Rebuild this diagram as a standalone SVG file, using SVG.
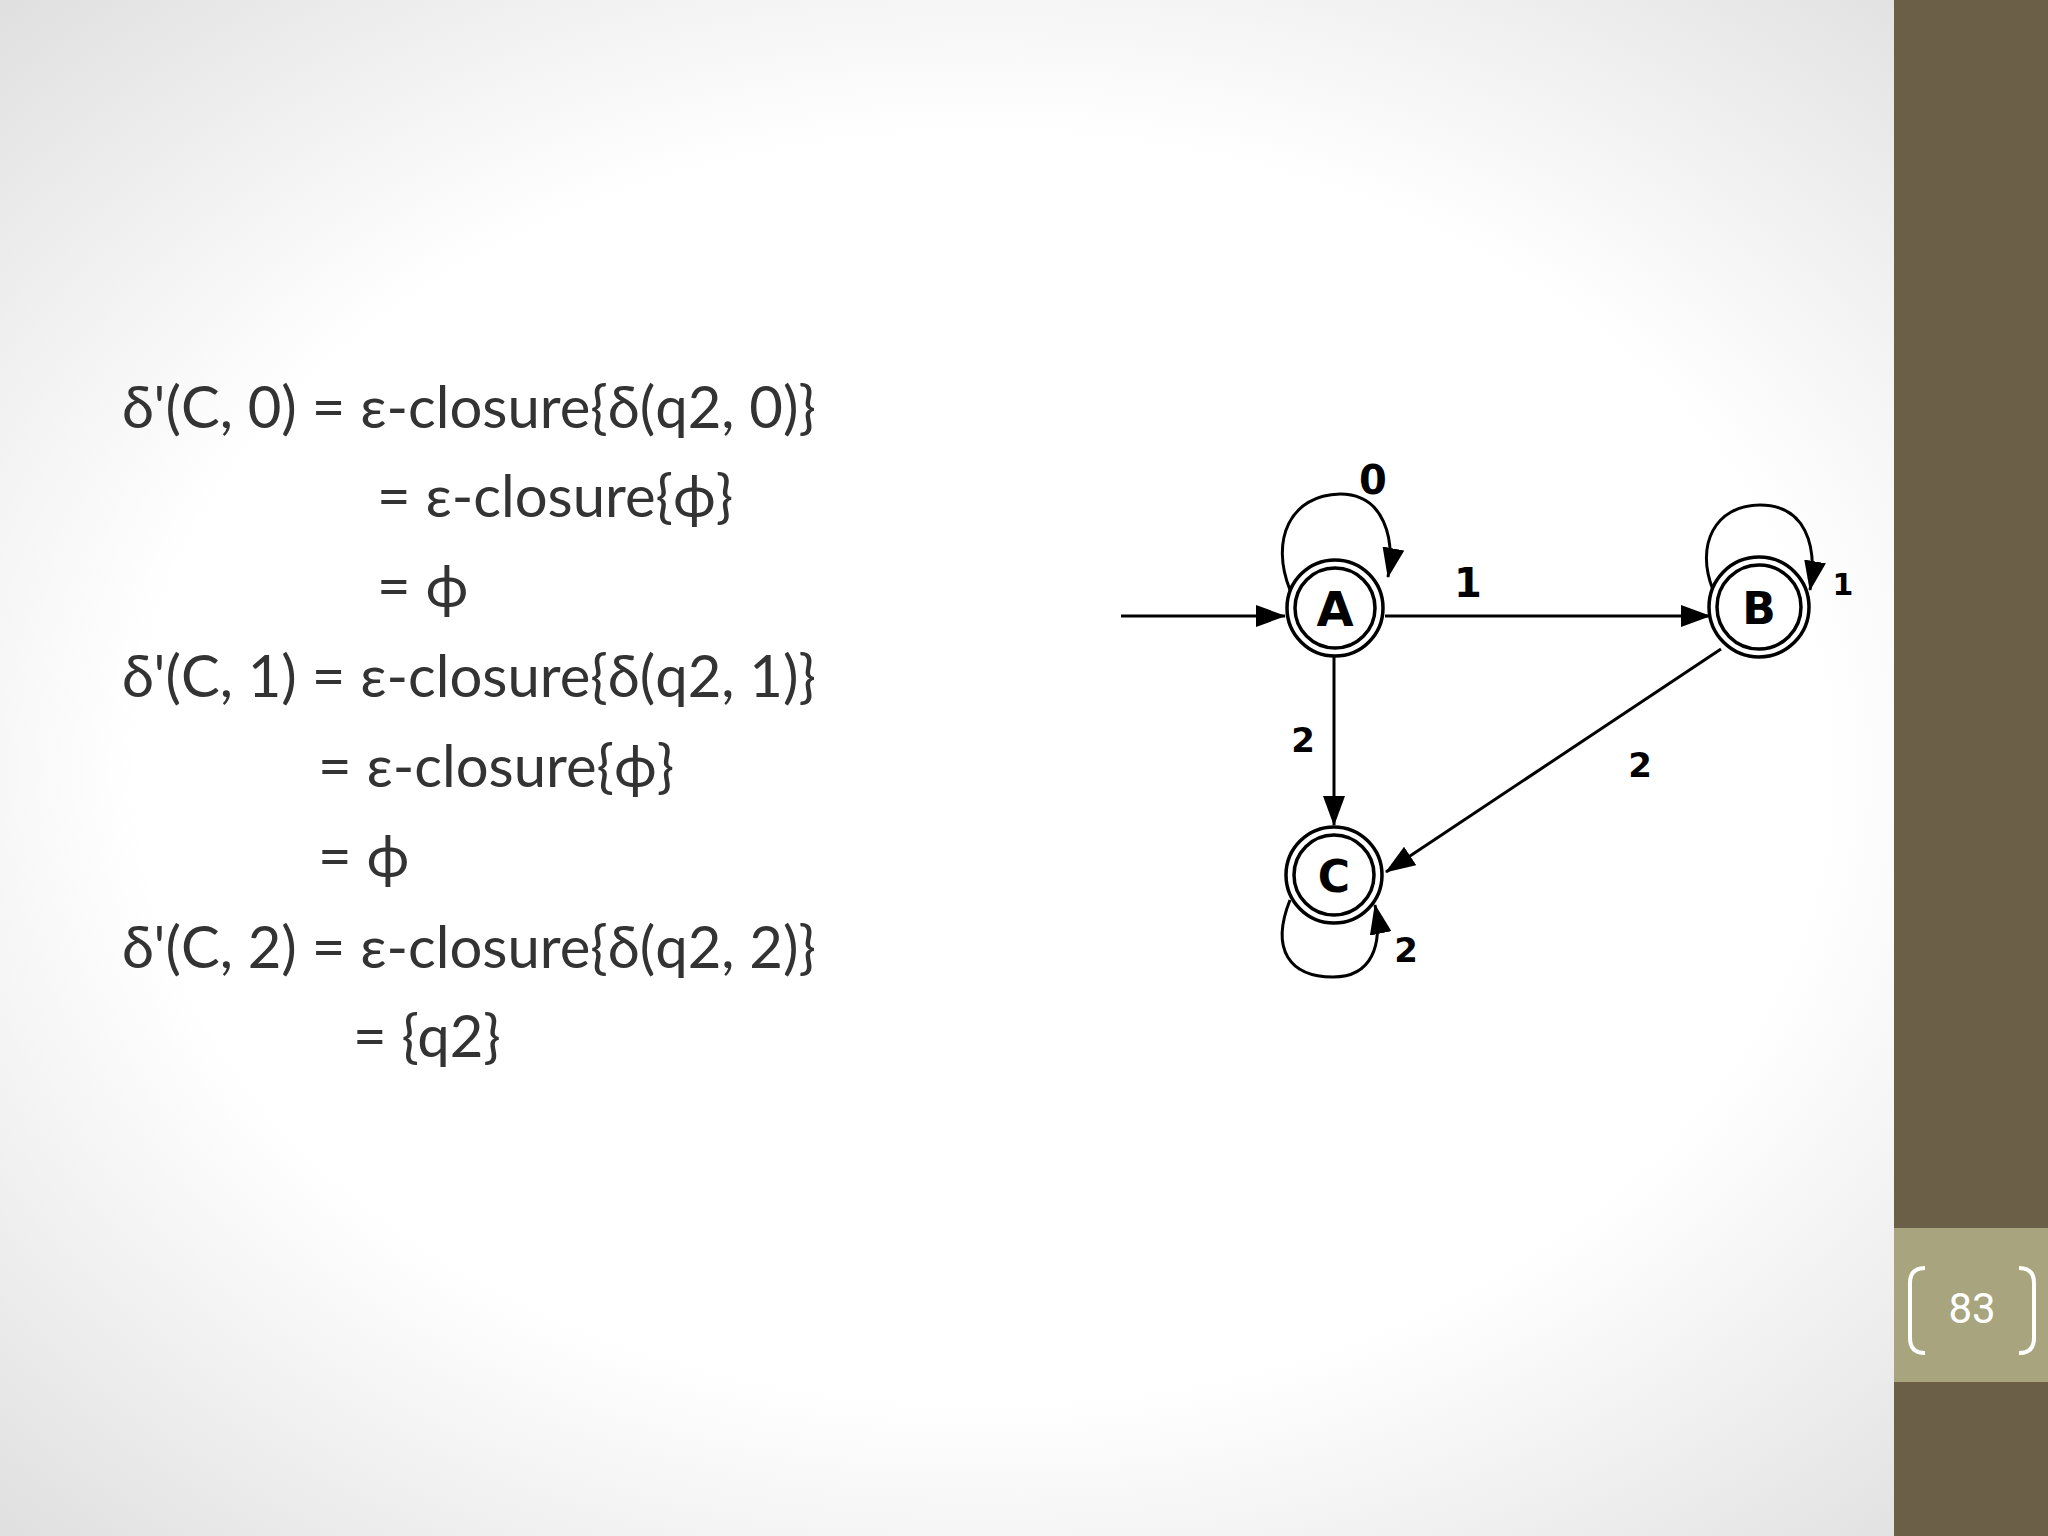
<svg xmlns="http://www.w3.org/2000/svg" width="2048" height="1536" viewBox="0 0 2048 1536">
<defs>
<radialGradient id="bg" cx="0.48" cy="0.5" r="0.75">
<stop offset="0.55" stop-color="#ffffff"/>
<stop offset="1" stop-color="#d9d9d9"/>
</radialGradient>
<marker id="ahb" markerWidth="30" markerHeight="22" refX="29" refY="11" orient="auto" markerUnits="userSpaceOnUse">
<path d="M0,0 L30,11 L0,22 Z" fill="#000"/>
</marker>
</defs>
<style>
.t{font-family:"Lato","Liberation Sans",sans-serif;font-size:58px;fill:#333333}
.st circle{fill:#fff;stroke:#000;stroke-width:3.5}
.lbl{font-family:"DejaVu Sans","Liberation Sans",sans-serif;font-weight:bold;fill:#000;text-anchor:middle}
.e{fill:none;stroke:#000;stroke-width:3}
</style>
<rect width="2048" height="1536" fill="url(#bg)"/>
<rect x="1894" y="0" width="154" height="1536" fill="#6b5f48"/>
<rect x="1894" y="1228" width="154" height="154" fill="#a8a57e"/>
<path d="M1925,1268 Q1910,1268 1910,1283 L1910,1338 Q1910,1353 1925,1353" fill="none" stroke="#fff" stroke-width="4"/>
<path d="M2019,1268 Q2034,1268 2034,1283 L2034,1338 Q2034,1353 2019,1353" fill="none" stroke="#fff" stroke-width="4"/>
<text x="1972" y="1323" font-family="Roboto,'Liberation Sans',sans-serif" font-size="42" fill="#fff" text-anchor="middle">83</text>

<g id="text">
<text class="t" x="122" y="428">δ'(C, 0) = ε-closure{δ(q2, 0)}</text>
<text class="t" x="377" y="517">= ε-closure{ϕ}</text>
<text class="t" x="377" y="607">= ϕ</text>
<text class="t" x="122" y="697">δ'(C, 1) = ε-closure{δ(q2, 1)}</text>
<text class="t" x="318" y="787">= ε-closure{ϕ}</text>
<text class="t" x="318" y="877">= ϕ</text>
<text class="t" x="122" y="968">δ'(C, 2) = ε-closure{δ(q2, 2)}</text>
<text class="t" x="353" y="1057">= {q2}</text>
</g>

<g id="connectors">
<line class="e" x1="1121" y1="616" x2="1285" y2="616" marker-end="url(#ahb)"/>
<line class="e" x1="1385" y1="616" x2="1710" y2="616" marker-end="url(#ahb)"/>
<line class="e" x1="1334" y1="656" x2="1334" y2="825" marker-end="url(#ahb)"/>
<line class="e" x1="1721" y1="649" x2="1386" y2="872" marker-end="url(#ahb)"/>
<path class="e" d="M1290,590 C1270,540 1290,495 1340,494 C1385,494 1395,540 1388,577" marker-end="url(#ahb)"/>
<path class="e" d="M1713,590 C1695,545 1715,505 1760,505 C1805,505 1818,545 1810,590" marker-end="url(#ahb)"/>
<path class="e" d="M1290,900 C1270,950 1290,977 1333,977 C1372,977 1383,945 1375,905" marker-end="url(#ahb)"/>
</g>

<g id="A" class="st"><circle cx="1335" cy="608" r="48"/><circle cx="1335" cy="608" r="40"/><text class="lbl" x="1335" y="626" font-size="48" font-weight="normal">A</text></g>
<g id="B" class="st"><circle cx="1759" cy="607" r="50"/><circle cx="1759" cy="607" r="42"/><text class="lbl" x="1759" y="624" font-size="44">B</text></g>
<g id="C" class="st"><circle cx="1334" cy="875" r="48"/><circle cx="1334" cy="875" r="40"/><text class="lbl" x="1334" y="892" font-size="44">C</text></g>

<g id="labels">
<text class="lbl" x="1373" y="494" font-size="40" font-weight="normal">0</text>
<text class="lbl" x="1468" y="597" font-size="40" font-weight="normal">1</text>
<text class="lbl" x="1843" y="595" font-size="30">1</text>
<text class="lbl" x="1303" y="752" font-size="34">2</text>
<text class="lbl" x="1640" y="777" font-size="34">2</text>
<text class="lbl" x="1406" y="962" font-size="34">2</text>
</g>
</svg>
